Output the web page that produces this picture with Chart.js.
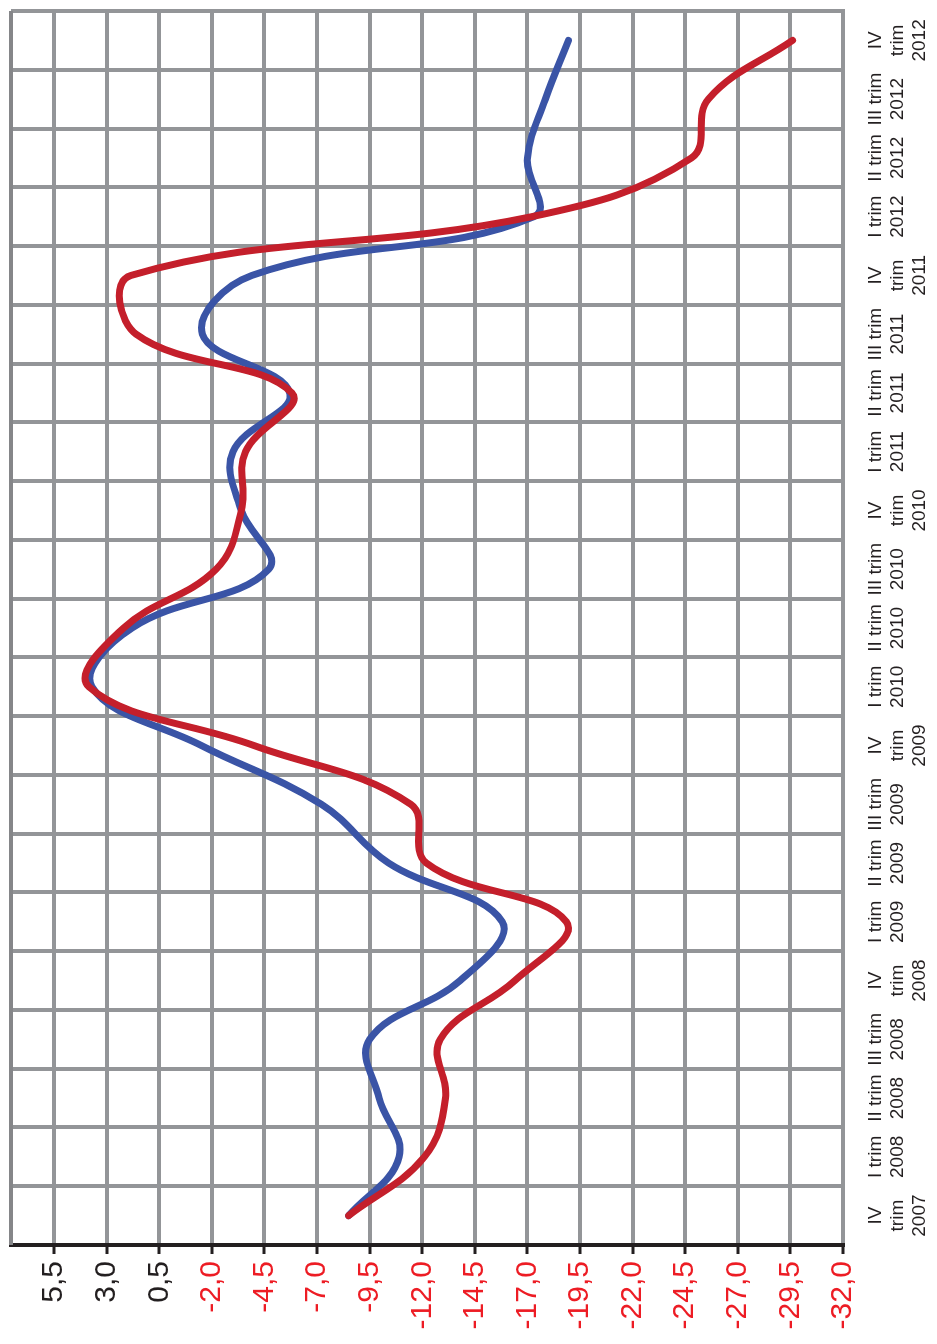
<!DOCTYPE html>
<html>
<head>
<meta charset="utf-8">
<script src="https://cdn.jsdelivr.net/npm/chart.js@4.4.1/dist/chart.umd.min.js"></script>
<style>
  html, body { margin: 0; padding: 0; background: #ffffff; overflow: hidden; }
  body { width: 937px; height: 1344px; position: relative; }
  /* the chart is laid out landscape and turned a quarter turn counter-clockwise */
  #frame {
    position: absolute; left: 0; top: 0;
    width: 1344px; height: 937px;
    transform-origin: 0 0;
    transform: translateY(1344px) rotate(-90deg);
  }
  #c { display: block; width: 1344px; height: 937px; }
</style>
</head>
<body>
<div id="frame"><canvas id="c" width="1344" height="937"></canvas></div>
<script>
// Quarters on the category axis
const quarters = [
  ["IV", "trim", "2007"],
  ["I trim", "2008"], ["II trim", "2008"], ["III trim", "2008"], ["IV", "trim", "2008"],
  ["I trim", "2009"], ["II trim", "2009"], ["III trim", "2009"], ["IV", "trim", "2009"],
  ["I trim", "2010"], ["II trim", "2010"], ["III trim", "2010"], ["IV", "trim", "2010"],
  ["I trim", "2011"], ["II trim", "2011"], ["III trim", "2011"], ["IV", "trim", "2011"],
  ["I trim", "2012"], ["II trim", "2012"], ["III trim", "2012"], ["IV", "trim", "2012"]
];

// Red series
const seriesRed = [
  -8.5, -12.1, -13.1, -12.85, -16.4, -18.85, -12.2, -11.45, -4.0, 3.85, 2.2,
  -2.2, -3.4, -3.6, -5.8, 1.6, 1.85, -17.2, -24.8, -25.6, -29.6
];

// Blue series
const seriesBlue = [
  -8.5, -10.9, -9.95, -9.5, -13.8, -15.8, -10.4, -7.2, -1.5, 3.7, 1.8,
  -4.7, -3.4, -3.0, -5.7, -1.55, -3.9, -17.3, -17.0, -17.85, -18.95
];

// Value axis ticks
const valueTicks = [
  5.5, 3.0, 0.5, -2.0, -4.5, -7.0, -9.5, -12.0, -14.5,
  -17.0, -19.5, -22.0, -24.5, -27.0, -29.5, -32.0
];
const valueMin = -32.0;
const valueMax = 7.55;

const FONT = "'Liberation Sans', Arial, 'DejaVu Sans', sans-serif";
const GRID = '#939598';
const INK = '#231f20';

// closes the top edge of the plot area
const plotFrame = {
  id: 'plotFrame',
  beforeDatasetsDraw(chart) {
    const { ctx, chartArea: a } = chart;
    ctx.save();
    ctx.strokeStyle = '#858689';
    ctx.lineWidth = 4;
    ctx.beginPath();
    ctx.moveTo(a.left, a.top);
    ctx.lineTo(a.right, a.top);
    ctx.stroke();
    ctx.restore();
  }
};

new Chart(document.getElementById('c'), {
  type: 'line',
  data: {
    labels: quarters,
    datasets: [
      {
        label: 'red',
        data: seriesRed,
        borderColor: '#c41f2b',
        borderWidth: 7,
        tension: 0.4,
        pointRadius: 0,
        fill: false,
        borderCapStyle: 'round',
        borderJoinStyle: 'round'
      },
      {
        label: 'blue',
        data: seriesBlue,
        borderColor: '#3a54a6',
        borderWidth: 7,
        tension: 0.4,
        pointRadius: 0,
        fill: false,
        borderCapStyle: 'round',
        borderJoinStyle: 'round'
      }
    ]
  },
  options: {
    responsive: false,
    animation: false,
    devicePixelRatio: 1,
    layout: { autoPadding: false, padding: { left: 0, right: 11, top: 11, bottom: 0 } },
    plugins: { legend: { display: false }, tooltip: { enabled: false } },
    scales: {
      x: {
        type: 'category',
        offset: true,
        grid: { offset: true, color: GRID, lineWidth: 4, drawTicks: false },
        border: { color: GRID, width: 4 },
        ticks: {
          color: INK,
          font: { family: FONT, size: 19, lineHeight: 1.15 },
          maxRotation: 0, minRotation: 0, autoSkip: false, padding: 22
        },
        afterFit(scale) {
          scale.height = 94;
          scale.paddingLeft = 0;
          scale.paddingRight = 0;
        }
      },
      y: {
        type: 'linear',
        min: valueMin,
        max: valueMax,
        afterBuildTicks(scale) { scale.ticks = valueTicks.map(v => ({ value: v })); },
        afterFit(scale) {
          scale.width = 99;
          scale.paddingTop = 0;
          scale.paddingBottom = 0;
        },
        grid: { color: GRID, lineWidth: 4, tickLength: 9, tickColor: INK, tickWidth: 3 },
        border: { color: INK, width: 4 },
        ticks: {
          font: { family: FONT, size: 30 },
          color: ctx => (ctx.tick && ctx.tick.value < 0 ? '#ed1c24' : INK),
          padding: 7,
          callback: v => Number(v).toFixed(1).replace('.', ',')
        }
      }
    }
  },
  plugins: [plotFrame]
});
</script>
</body>
</html>
